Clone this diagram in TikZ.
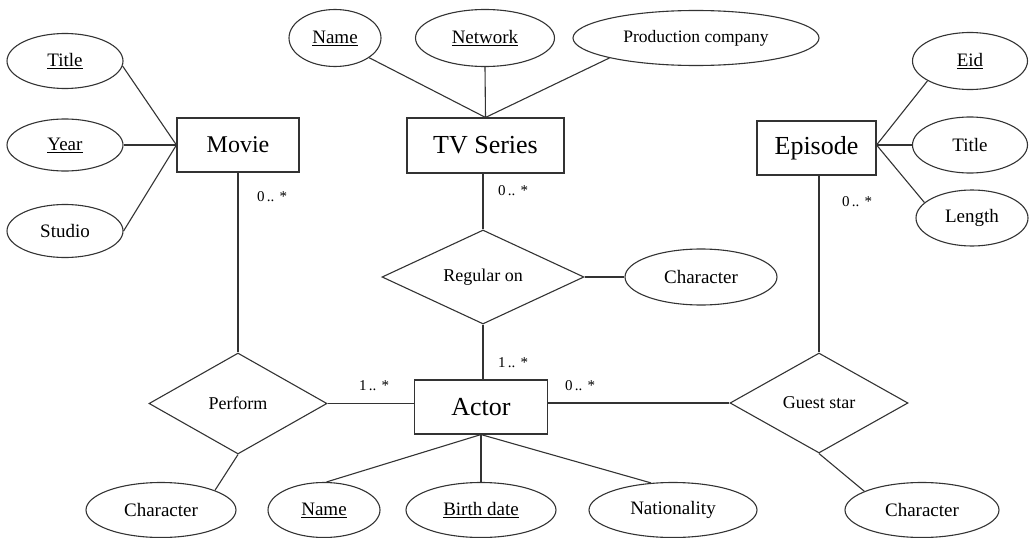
\documentclass[tikz,border=0pt]{standalone}
\usepackage{fontspec}
\setmainfont{Liberation Serif}
\usetikzlibrary{shapes.geometric}
\begin{document}
\begin{tikzpicture}[x=1pt,y=-1pt,
  every node/.style={inner sep=0pt, text=black},
  line/.style={draw=black!80, line width=1.1pt},
  entity/.style={line, rectangle, font=\fontsize{26}{30}\selectfont},
  attr/.style={line, ellipse, font=\fontsize{19}{22}\selectfont},
  rel/.style={line, diamond, aspect=2, font=\fontsize{18}{21}\selectfont},
  mult/.style={font=\fontsize{15}{18}\selectfont}
]
\useasboundingbox (0,0) rectangle (1029,538);

% entities
\node[entity, minimum width=122pt, minimum height=54pt, font=\fontsize{24}{28}\selectfont] (movie) at (238,145) {Movie};
\node[entity, minimum width=157pt, minimum height=55pt] (tv) at (485.5,145.5) {TV Series};
\node[entity, minimum width=119pt, minimum height=54pt] (episode) at (816.5,148) {Episode};
\node[entity, minimum width=133pt, minimum height=54pt] (actor) at (481,407) {Actor};

% relationships
\node[rel, minimum width=178pt, minimum height=101pt] (perform) at (238,403.5) {Perform};
\node[rel, minimum width=202pt, minimum height=94pt] (regular) at (483,277) {Regular on};
\node[rel, minimum width=178pt, minimum height=100pt] (guest) at (819,403) {Guest star};

% movie attributes
\node[attr, minimum width=116pt, minimum height=55pt] (mtitle) at (65,61) {\underline{Title}};
\node[attr, minimum width=116pt, minimum height=52pt] (myear) at (65,145) {\underline{Year}};
\node[attr, minimum width=116pt, minimum height=53pt] (mstudio) at (65,231) {Studio};

% tv series attributes
\node[attr, minimum width=92pt, minimum height=57pt] (tname) at (335,38) {\underline{Name}};
\node[attr, minimum width=139pt, minimum height=57pt] (tnet) at (485,38) {\underline{Network}};
\node[attr, minimum width=246pt, minimum height=55pt, font=\fontsize{17.5}{21}\selectfont] (tprod) at (696,38) {Production company};

% episode attributes
\node[attr, minimum width=115pt, minimum height=57pt] (eid) at (970,61) {\underline{Eid}};
\node[attr, minimum width=115pt, minimum height=56pt] (etitle) at (970,145) {Title};
\node[attr, minimum width=112pt, minimum height=56pt] (elen) at (972,218) {Length};
\coordinate (ehub) at ([yshift=3pt]episode.east);

% relationship attributes
\node[attr, minimum width=152pt, minimum height=56pt] (rchar) at (701,277) {Character};
\node[attr, minimum width=150pt, minimum height=55pt] (pchar) at (161,510) {Character};
\node[attr, minimum width=154pt, minimum height=55pt] (gchar) at (922,510) {Character};

% actor attributes
\node[attr, minimum width=112pt, minimum height=55pt] (aname) at (324,510) {\underline{Name}};
\node[attr, minimum width=150pt, minimum height=55pt] (abirth) at (481,510) {\underline{Birth date}};
\node[attr, minimum width=168pt, minimum height=55pt] (anat) at (673,510) {Nationality};

% attribute links
\draw[line] (mtitle.-5) -- (movie.west);
\draw[line] (myear.east) -- (movie.west);
\draw[line] (mstudio.east) -- (movie.west);
\draw[line] (tname.-30) -- (tv.north);
\draw[line] (tnet.south) -- (tv.north);
\draw[line] (tprod.193) -- (tv.north);
\draw[line] (eid.205) -- (ehub);
\draw[line] (etitle.west) -- (ehub);
\draw[line] (elen.162) -- (ehub);
\draw[line] (aname.85) -- (actor.south);
\draw[line] (abirth.north) -- (actor.south);
\draw[line] (anat.129) -- (actor.south);
\draw[line] (regular.east) -- (rchar.west);
\draw[line] (perform.south) -- (pchar.20);
\draw[line] (guest.south) -- (gchar.162);

% relationship links
\draw[line] (movie.south) -- (perform.north);
\draw[line] (tv.south -| regular.north) -- (regular.north);
\draw[line] (regular.south) -- (regular.south |- actor.north);
\draw[line] (perform.east) -- (perform.east -| actor.west);
\draw[line] (actor.east |- guest.west) -- (guest.west);
\draw[line] (episode.south -| guest.north) -- (guest.north);

% multiplicities
\node[mult] (m1) at (272,197) {0\,..\,\,*};
\node[mult] (m2) at (513,191) {0\,..\,\,*};
\node[mult] (m3) at (857,202) {0\,..\,\,*};
\node[mult] (m4) at (374,386) {1\,..\,\,*};
\node[mult] (m5) at (513,363) {1\,..\,\,*};
\node[mult] (m6) at (580,386) {0\,..\,\,*};
\end{tikzpicture}
\end{document}
